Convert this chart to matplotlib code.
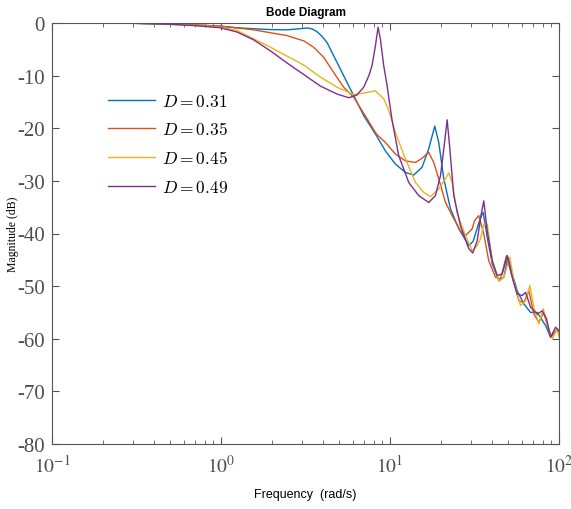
import matplotlib
matplotlib.use("Agg")
import matplotlib.pyplot as plt
from matplotlib.ticker import LogLocator, NullFormatter

plt.rcParams["mathtext.fontset"] = "cm"

# ── Data (frequency in rad/s, magnitude in dB) ───
labels = ["$D = 0.31$", "$D = 0.35$", "$D = 0.45$", "$D = 0.49$"]
colors = ["#0072BD", "#D95319", "#EDB120", "#7E2F8E"]

f_031 = [0.1, 0.3, 0.5, 0.7, 0.99, 1.24, 1.56, 1.96, 2.46, 2.9, 3.23, 3.45,
         3.70, 3.95, 4.24, 4.86, 5.57, 6.10, 6.99, 8.31, 9.39, 10.76, 12.34,
         13.81, 15.49, 16.95, 18.40, 19.43, 20.81, 22.79, 25.52, 29.26, 31.0,
         32.8, 34.3, 35.6, 37.6, 40.3, 44.1, 47.2, 49.8, 52.9, 56.6, 62.0,
         67.9, 74.4, 83.3, 89.2, 93.0, 97.7, 100]
m_031 = [0, -0.05, -0.2, -0.4, -0.6, -0.9, -1.1, -1.25, -1.3, -1.1, -0.95, -1.1,
         -1.65, -2.5, -3.7, -7.5, -11.3, -13.8, -17.6, -21.4, -24.3, -26.8, -28.4,
         -28.9, -27.4, -23.9, -19.6, -22.7, -29.6, -35.3, -39.1, -42.3, -41.5,
         -39.0, -37.0, -36.0, -40.7, -45.8, -49.0, -48.3, -44.5, -47.7, -50.9,
         -53.4, -55.0, -55.0, -57.5, -59.7, -59.0, -58.1, -59.2]

f_035 = [0.1, 0.3, 0.5, 0.7, 0.99, 1.56, 2.46, 3.09, 3.53, 4.05, 4.64, 5.32,
         6.10, 7.32, 8.31, 9.39, 10.76, 12.34, 14.14, 15.49, 16.95, 18.15, 19.43,
         21.29, 23.33, 26.1, 28.0, 30.65, 31.6, 33.5, 35.9, 38.4, 42.1, 45.1,
         48.9, 52.9, 57.9, 62.0, 66.3, 71.0, 76.0, 81.1, 89.2, 93.0, 97.7, 100]
m_035 = [0, -0.05, -0.2, -0.35, -0.6, -1.3, -2.4, -3.4, -4.6, -6.5, -9.4, -12.2,
         -14.1, -18.2, -21.1, -22.7, -24.9, -26.2, -26.5, -25.7, -24.6, -26.5,
         -29.6, -34.1, -36.6, -39.5, -40.4, -39.1, -37.6, -36.6, -40.1, -45.2,
         -48.3, -48.6, -44.2, -48.3, -52.8, -53.1, -50.9, -55.3, -56.9, -55.0,
         -59.7, -59.2, -58.1, -59.0]

f_045 = [0.1, 0.3, 0.5, 0.7, 0.99, 1.24, 1.56, 1.96, 2.46, 3.09, 3.88, 4.86,
         6.10, 6.99, 8.20, 9.18, 9.39, 10.0, 10.76, 12.34, 14.14, 15.84, 17.35,
         19.43, 21.29, 22.27, 23.33, 24.97, 28.0, 30.65, 32.8, 34.3, 35.9, 37.6,
         40.3, 44.1, 47.2, 51.2, 54.0, 59.2, 63.4, 67.2, 71.0, 76.0, 80.7, 85.2,
         91.3, 97.7, 100]
m_045 = [0, -0.05, -0.25, -0.45, -0.8, -1.4, -3.0, -4.6, -6.3, -8.0, -10.3, -12.2,
         -13.6, -13.3, -12.9, -14.4, -15.1, -17.3, -20.8, -25.8, -30.3, -32.2,
         -33.0, -31.5, -29.6, -28.5, -30.3, -36.2, -40.4, -43.3, -42.3, -41.0,
         -38.2, -38.2, -45.2, -49.0, -48.3, -44.5, -49.0, -53.7, -52.8, -49.9,
         -54.0, -57.2, -54.3, -57.2, -60.0, -58.1, -59.7]

f_049 = [0.1, 0.3, 0.5, 0.7, 0.99, 1.24, 1.56, 1.96, 2.46, 3.09, 3.88, 4.86,
         5.70, 6.36, 6.99, 7.50, 7.83, 8.20, 8.50, 8.77, 9.18, 9.61, 10.29,
         11.26, 12.91, 14.79, 16.95, 18.57, 19.9, 20.81, 21.79, 22.6, 23.84,
         26.1, 29.26, 30.9, 32.8, 34.65, 35.9, 37.6, 40.3, 43.1, 46.1, 49.4,
         52.9, 56.6, 60.6, 63.4, 67.9, 74.4, 79.6, 84.4, 89.2, 95.5, 100]
m_049 = [0, -0.05, -0.25, -0.5, -0.9, -1.7, -3.2, -5.3, -7.6, -9.8, -12.0, -13.5,
         -14.2, -13.7, -12.2, -10.0, -8.1, -4.3, -0.8, -3.0, -8.1, -11.9, -18.5,
         -25.2, -30.3, -32.8, -34.1, -32.8, -29.0, -23.9, -18.4, -23.9, -32.8,
         -38.5, -42.9, -43.7, -41.4, -36.3, -33.8, -39.5, -45.2, -48.0, -47.7,
         -44.2, -48.3, -51.5, -51.8, -51.2, -54.0, -55.3, -54.7, -56.2, -59.7,
         -57.8, -58.5]

freqs = [f_031, f_035, f_045, f_049]
mags = [m_031, m_035, m_045, m_049]

yticks = [0, -10, -20, -30, -40, -50, -60, -70, -80]
xticks = [0.1, 1, 10, 100]
xticklabels = ["$10^{-1}$", "$10^{0}$", "$10^{1}$", "$10^{2}$"]

# ── Figure ───────────────────────────────────────────────────────────────
fig = plt.figure(figsize=(5.71, 5.10), dpi=100)
ax = fig.add_axes([52 / 571, 1 - 445 / 510, 507 / 571, 421 / 510])

for f, m, c, lab in zip(freqs, mags, colors, labels):
    ax.plot(f, m, color=c, lw=1.0, label=lab)

ax.set_xscale("log")
ax.set_xlim(0.1, 100)
ax.set_ylim(-80, 0)

axis_gray = "#555555"
ax.set_xticks(xticks)
ax.set_xticklabels(xticklabels, math_fontfamily="stix")
ax.xaxis.set_minor_locator(LogLocator(base=10, subs=range(2, 10)))
ax.xaxis.set_minor_formatter(NullFormatter())
ax.set_yticks(yticks)
ax.set_yticklabels([str(v) for v in yticks], family="Liberation Serif")

ax.tick_params(which="both", direction="in", top=True, right=True,
               colors=axis_gray, labelcolor="#4d4d4d", labelsize=15)
ax.tick_params(axis="x", labelsize=14, pad=7)
ax.tick_params(axis="y", pad=5)
ax.tick_params(which="major", length=5, width=0.8)
ax.tick_params(which="minor", length=3, width=0.6)
for sp in ax.spines.values():
    sp.set_color(axis_gray)
    sp.set_linewidth(0.8)

ax.set_title("Bode Diagram", fontsize=8.5, fontweight="bold",
             family="Liberation Sans", pad=6)
ax.set_xlabel("Frequency  (rad/s)", fontsize=9, family="Liberation Sans",
              labelpad=9)
ax.set_ylabel("Magnitude (dB)", fontsize=8.5, family="Liberation Serif",
              labelpad=-1)

ax.legend(loc="upper left", bbox_to_anchor=(0.079, 0.874), frameon=False,
          fontsize=12.5, handlelength=2.75, labelspacing=0.62,
          handletextpad=0.4)

fig.savefig("out.png", dpi=100)
